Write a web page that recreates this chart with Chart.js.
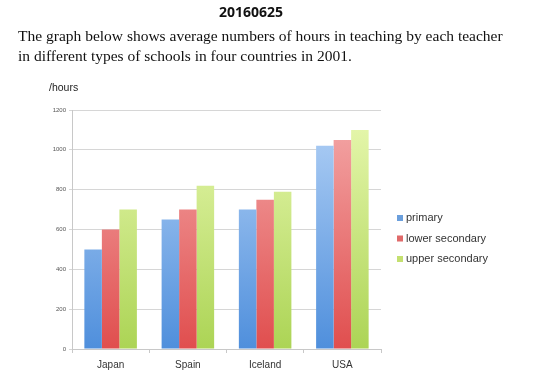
<!DOCTYPE html>
<html><head><meta charset="utf-8">
<script src="https://cdn.jsdelivr.net/npm/chart.js@4.4.1/dist/chart.umd.min.js"></script>
<style>
html,body{margin:0;padding:0;background:#fff;width:553px;height:373px;overflow:hidden;}
#wrap{position:relative;width:553px;height:373px;}
#code{position:absolute;left:0;width:502px;top:2px;text-align:center;font:bold 14px "Open Sans",sans-serif;color:#111;}
#desc{position:absolute;left:18px;top:26px;font:15.5px "Liberation Serif","Times New Roman",serif;line-height:20px;color:#111;white-space:nowrap;}
#unit{position:absolute;left:49px;top:81px;font:10.5px "Liberation Sans",sans-serif;color:#222;}
canvas{position:absolute;left:0;top:0;}
</style></head>
<body><div id="wrap">
<canvas id="c" width="553" height="373"></canvas>
<div id="code">20160625</div>
<div id="desc">The graph below shows average numbers of hours in teaching by each teacher<br>in different types of schools in four countries in 2001.</div>
<div id="unit">/hours</div>
</div>
<script>
const categories = ["Japan", "Spain", "Iceland", "USA"];
const primary = [500, 650, 700, 1020];
const lowerSecondary = [600, 700, 750, 1050];
const upperSecondary = [700, 820, 790, 1100];
const seriesNames = ["primary", "lower secondary", "upper secondary"];
const yTicks = [0, 200, 400, 600, 800, 1000, 1200];

const palettes = [
  {top:"#b4d2f6", bottom:"#4f8fdc", swatch:"#6b9fdc"},
  {top:"#f4aaaa", bottom:"#e04e4e", swatch:"#e06a6a"},
  {top:"#e8f8b0", bottom:"#acd455", swatch:"#c4e070"}
];
function grad(i){
  return function(ctx){
    const ca = ctx.chart.chartArea;
    if(!ca) return palettes[i].bottom;
    const g = ctx.chart.ctx.createLinearGradient(0, ca.top, 0, ca.bottom);
    g.addColorStop(0, palettes[i].top);
    g.addColorStop(1, palettes[i].bottom);
    return g;
  };
}
const legendPlugin = {
  id:"sideLegend",
  afterDraw(chart){
    const c = chart.ctx;
    c.save();
    c.font = '11px "Liberation Sans", sans-serif';
    c.textBaseline = "middle";
    chart.data.datasets.forEach((ds,i)=>{
      const y = 218 + i*20.5;
      c.fillStyle = palettes[i].swatch;
      c.fillRect(397, y-3, 6, 6);
      c.fillStyle = "#333";
      c.fillText(ds.label, 406, y);
    });
    c.restore();
  }
};
new Chart(document.getElementById("c"), {
  type:"bar",
  data:{
    labels:categories,
    datasets:[
      {label:seriesNames[0], data:primary, backgroundColor:grad(0)},
      {label:seriesNames[1], data:lowerSecondary, backgroundColor:grad(1)},
      {label:seriesNames[2], data:upperSecondary, backgroundColor:grad(2)}
    ]
  },
  options:{
    responsive:false,
    animation:false,
    layout:{padding:{left:40, right:172, top:110, bottom:0}},
    plugins:{legend:{display:false}, tooltip:{enabled:false}},
    datasets:{bar:{categoryPercentage:0.68, barPercentage:1.0}},
    scales:{
      x:{
        grid:{display:true, drawOnChartArea:false, drawTicks:true, tickLength:4, color:"#c8c8c8", offset:true},
        border:{color:"#c8c8c8"},
        ticks:{font:{family:"Liberation Sans", size:10}, color:"#333", padding:6},
        afterFit(s){ s.height = 24; }
      },
      y:{
        min:0, max:1200,
        afterBuildTicks(s){ s.ticks = yTicks.map(v=>({value:v})); },
        grid:{color:"#d6d6d6", tickLength:3},
        border:{color:"#c8c8c8"},
        ticks:{font:{family:"Liberation Sans", size:6}, color:"#555", padding:3, callback:(v)=>String(v)},
        afterFit(s){ s.width = 32; }
      }
    }
  },
  plugins:[legendPlugin]
});
</script>
</body></html>
